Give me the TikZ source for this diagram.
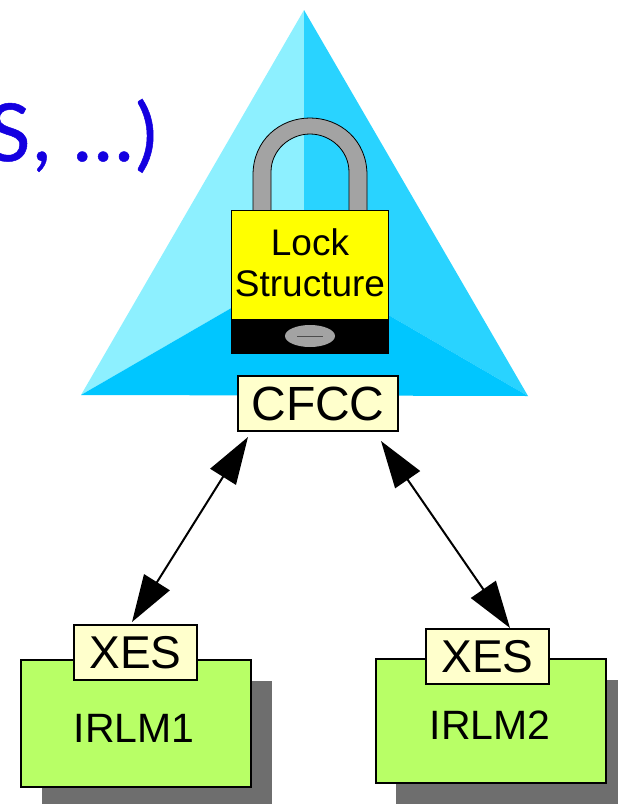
\documentclass[tikz,border=0pt]{standalone}
\usepackage{fontspec}
\setmainfont{Liberation Sans}
\newfontfamily\handfont[FakeBold=0.6]{Lato}
\usetikzlibrary{arrows.meta}
\definecolor{triL}{HTML}{8DF0FF}
\definecolor{triR}{HTML}{29D3FF}
\definecolor{triB}{HTML}{00C6FF}
\definecolor{pale}{HTML}{FFFFCC}
\definecolor{lime}{HTML}{B8FF66}
\definecolor{shadowgray}{HTML}{6E6E6E}
\definecolor{shackle}{HTML}{A3A3A3}
\definecolor{inkblue}{HTML}{1400E0}
\definecolor{lockyellow}{RGB}{255,255,0}
\tikzset{
 tagbox/.style={draw=black,line width=2pt,fill=pale,inner sep=0pt,outer sep=0pt,text=black,anchor=north west},
 hostbox/.style={draw=black,line width=2pt,fill=lime,inner sep=0pt,outer sep=0pt,anchor=north west,minimum width=230pt},
 lockpart/.style={draw=black,line width=0.8pt,inner sep=0pt,outer sep=0pt,anchor=north west,minimum width=157pt},
 link/.style={line width=2pt,{Stealth[length=47pt,width=30pt,inset=0pt]}-{Stealth[length=47pt,width=30pt,inset=0pt]}},
 handtext/.style={font=\handfont\fontsize{80}{80}\selectfont,text=inkblue,inner sep=0pt},
}
\begin{document}
\begin{tikzpicture}[x=1pt,y=-1pt]
\useasboundingbox (0,0) rectangle (618,804);
\clip (0,0) rectangle (618,804);
% title fragment
\node[handtext,anchor=base east] (title) at (157,161) {S\kern 2pt,\kern 22pt.\kern 2pt.\kern 2pt.\kern 2pt)};
% pyramid
\coordinate (apex) at (304,10);
\coordinate (left) at (81,395);
\coordinate (right) at (528,396);
\coordinate (mid) at (304,266);
\fill[triL] (apex) -- (left) -- (mid) -- cycle;
\fill[triR] (apex) -- (right) -- (mid) -- cycle;
\fill[triB] (left) -- (mid) -- (right) -- cycle;
% padlock
\draw[fill=shackle,line width=0.8pt] (253,212) -- (253,175) .. controls (253,140) and (280,118) .. (310,118) .. controls (340,118) and (367,140) .. (367,175) -- (367,212) -- (349,212) -- (349,172) .. controls (349,150) and (330,134) .. (310,134) .. controls (290,134) and (271,150) .. (271,172) -- (271,212) -- cycle;
\node[lockpart,fill=black,minimum height=35pt] (lockbase) at (231,318) {};
\node[lockpart,fill=lockyellow,minimum height=109pt] (lockbody) at (231,210) {};
\node[font=\fontsize{37}{41}\selectfont,anchor=base,inner sep=0pt] (locktext1) at (310,255) {Lock};
\node[font=\fontsize{37}{41}\selectfont,anchor=base,inner sep=0pt] (locktext2) at (310,296) {Structure};
\fill[shackle] (310,336) ellipse [x radius=25, y radius=11];
\draw[line width=0.8pt,black!70] (297,336) -- (323,336);
% hosts
\fill[shadowgray] (42,681) rectangle (272,804);
\fill[shadowgray] (396,680) rectangle (618,804);
\node[hostbox,minimum height=127pt] (irlm1) at (21,660) {};
\node[hostbox,minimum height=124pt] (irlm2) at (376,659) {};
\node[font=\fontsize{41}{44}\selectfont,anchor=base,inner sep=0pt] (irlm1t) at (134,742) {IRLM1};
\node[font=\fontsize{41}{44}\selectfont,anchor=base,inner sep=0pt] (irlm2t) at (490,739) {IRLM2};
% tags
\node[tagbox,minimum width=160pt,minimum height=55pt,font=\fontsize{48}{50}\selectfont] (cfcc) at (238,376) {CFCC};
\node[tagbox,minimum width=123pt,minimum height=55pt,font=\fontsize{46}{50}\selectfont] (xes1) at (74,625) {XES};
\node[tagbox,minimum width=123pt,minimum height=55pt,font=\fontsize{46}{50}\selectfont] (xes2) at (426,629) {XES};
% links
\draw[link] ([xshift=10pt,yshift=-6pt]cfcc.south west) -- ([xshift=58pt,yshift=3pt]xes1.north west);
\draw[link] ([xshift=-17pt,yshift=-10pt]cfcc.south east) -- ([xshift=84pt,yshift=1pt]xes2.north west);
\end{tikzpicture}
\end{document}
